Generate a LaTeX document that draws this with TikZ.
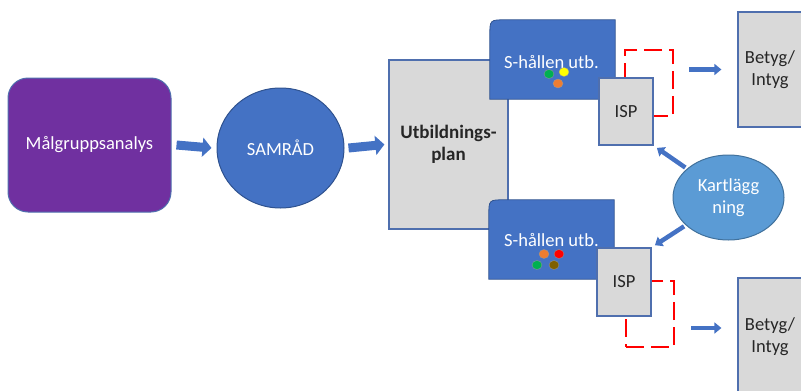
\documentclass[tikz,border=0pt]{standalone}
\usepackage{fontspec}
\setmainfont{Carlito}
\usetikzlibrary{arrows.meta,shapes.geometric,calc}
\definecolor{purp}{HTML}{7030A0}
\definecolor{mblue}{HTML}{4472C4}
\definecolor{dblue}{HTML}{2F528F}
\definecolor{bord}{HTML}{4F6FAE}
\definecolor{lgray}{HTML}{D9D9D9}
\definecolor{lblue}{HTML}{5B9BD5}
\definecolor{kbord}{HTML}{41719C}
\definecolor{txt}{HTML}{262626}
\definecolor{dgreen}{HTML}{00B050}
\definecolor{dyellow}{HTML}{FFFF00}
\definecolor{dorange}{HTML}{ED7D31}
\definecolor{dred}{HTML}{FF0000}
\definecolor{dbrown}{HTML}{7F6000}
\tikzset{
  txtf/.style={font=\fontsize{18.5}{22}\selectfont},
  graybox/.style={draw=bord, line width=1.2pt, fill=lgray, text=txt, txtf, align=center, inner sep=0pt},
  bigarrow/.style={draw=mblue, line width=9pt, -{Triangle[length=9pt,width=19pt]}},
  smallarrow/.style={draw=mblue, line width=4.5pt, -{Triangle[length=7pt,width=11pt]}},
  reddash/.style={draw=dred, line width=2.2pt, dash pattern=on 18pt off 7pt, inner sep=0pt},
  dotn/.style={ellipse, minimum width=10pt, minimum height=9pt, inner sep=0pt, draw=black!40, line width=0.3pt},
  shape box/.style={inner sep=0pt}
}
\begin{document}
\begin{tikzpicture}[x=1pt,y=-1pt]
\useasboundingbox (0,0) rectangle (801,391);

% Malgruppsanalys
\node[draw=bord, line width=1pt, fill=purp, rounded corners=20pt, text=white, txtf,
      minimum width=163pt, minimum height=134pt, inner sep=0pt] (mal) at (89.5,145) {Målgruppsanalys};
% SAMRAD
\node[ellipse, draw=dblue, line width=1pt, fill=mblue, text=white, txtf,
      minimum width=127pt, minimum height=120pt, inner sep=0pt] (sam) at (280.5,148) {SAMRÅD};
% Utbildningsplan
\node[graybox, font=\fontsize{19}{22}\selectfont\bfseries, minimum width=119pt, minimum height=169pt] (utb) at (448.5,144.5) {Utbildnings-\\plan};

% S-hallen top
\node[shape box, minimum width=125pt, minimum height=79pt] (s1) at (552.5,59.5) {};
\draw[draw=dblue, line width=0.8pt, fill=mblue] (s1.south west) -- ([yshift=-16pt]s1.north west)
  .. controls (s1.north west) .. ([xshift=16pt]s1.north west) -- (s1.north east) -- (s1.south east) -- cycle;
\node[text=white, txtf, inner sep=0pt] (s1t) at (551.5,62) {S-hållen utb.};
\node[dotn, fill=dgreen] (d1) at (549,74) {};
\node[dotn, fill=dyellow] (d2) at (564,72) {};
\node[dotn, fill=dorange] (d3) at (558,83.5) {};

% S-hallen bottom
\node[shape box, minimum width=125pt, minimum height=79pt] (s2) at (551.5,239.5) {};
\draw[draw=dblue, line width=0.8pt, fill=mblue] (s2.south west) -- ([yshift=-16pt]s2.north west)
  .. controls (s2.north west) .. ([xshift=16pt]s2.north west) -- (s2.north east) -- (s2.south east) -- cycle;
\node[text=white, txtf, inner sep=0pt] (s2t) at (551.5,240) {S-hållen utb.};
\node[dotn, fill=dorange] (e1) at (544,254) {};
\node[dotn, fill=dred] (e2) at (559,254) {};
\node[dotn, fill=dgreen] (e3) at (537,265) {};
\node[dotn, fill=dbrown] (e4) at (554,265) {};

% dashed brackets
\node[reddash, minimum width=48pt, minimum height=66pt] (dash1) at (649,83) {};
\node[reddash, minimum width=48pt, minimum height=66pt] (dash2) at (650,314) {};

% ISP boxes
\node[graybox, minimum width=54pt, minimum height=67pt] (isp1) at (626,111.5) {ISP};
\node[graybox, minimum width=54pt, minimum height=68pt] (isp2) at (624,282) {ISP};

% Kartlaggning
\node[ellipse, draw=kbord, line width=1pt, fill=lblue, text=white, txtf, align=center,
      minimum width=111pt, minimum height=85pt, inner sep=0pt] (kart) at (728.5,197.5) {Kartlägg\\ning};

% Betyg boxes
\node[graybox, minimum width=64pt, minimum height=115pt] (bet1) at (770,69.5) {Betyg/\\Intyg};
\node[graybox, minimum width=64pt, minimum height=118pt] (bet2) at (770,337) {Betyg/\\Intyg};

% arrows
\draw[bigarrow] ([xshift=5pt]mal.east) -- ([xshift=-5pt]sam.west);
\draw[bigarrow] ([xshift=4pt]sam.east) -- ([xshift=-4pt]utb.west);
\draw[smallarrow] ($(dash1.east |- bet1.west)+(15,0)$) -- ($(bet1.west)+(-16,0)$);
\coordinate (b2s) at ($(dash2.east)+(16,14)$);
\draw[smallarrow] (b2s) -- ($(b2s -| bet2.west)+(-16,0)$);
\draw[smallarrow, shorten <=2pt, shorten >=4pt] (kart) -- (isp1.south east);
\draw[smallarrow, shorten <=2pt, shorten >=4pt] (kart) -- (isp2.north east);
\end{tikzpicture}
\end{document}
